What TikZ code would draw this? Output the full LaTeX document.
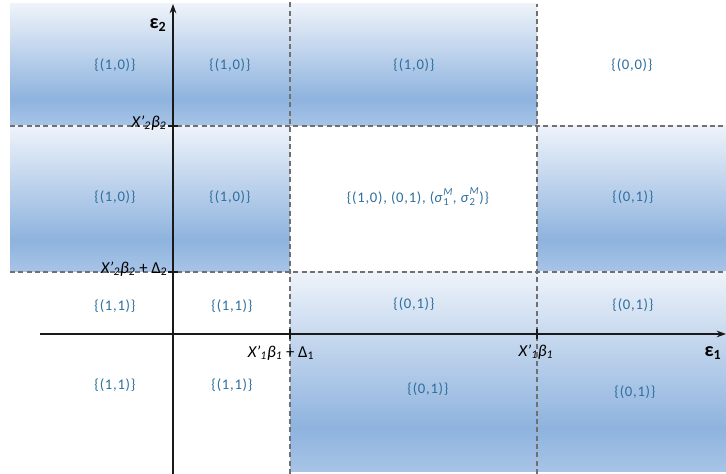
\documentclass[tikz,border=0pt]{standalone}
\usepackage{fontspec}
\setmainfont{Carlito}
\newfontfamily\cellfont[LetterSpace=5]{Carlito}
\usetikzlibrary{arrows.meta}

\definecolor{bandtop}{HTML}{EEF3FA}
\definecolor{banddark}{HTML}{8EB3DE}
\definecolor{bandbot}{HTML}{A8C4E7}
\definecolor{lbl}{HTML}{2E6E9E}
\definecolor{gridgray}{HTML}{707070}
\pgfdeclareverticalshading{band}{100bp}{color(0bp)=(bandbot); color(25bp)=(bandbot);
  color(36bp)=(banddark); color(75bp)=(bandtop); color(100bp)=(bandtop)}

\newcommand{\xb}[1]{\textit{X'\textsubscript{#1}β\textsubscript{#1}}}
\newcommand{\sgm}[1]{\textit{σ}\raisebox{-0.5ex}{\fontsize{8}{8}\selectfont\shortstack[l]{\textit{M}\\#1}}}

\begin{document}
\begin{tikzpicture}[x=0.75pt, y=0.75pt,
    cell/.style={text=lbl, font=\cellfont\fontsize{11}{13}\selectfont},
    ticklbl/.style={font=\fontsize{12.5}{14}\selectfont, inner sep=1pt},
    dashline/.style={draw=gridgray, line width=0.9pt, dash pattern=on 3.75pt off 2.5pt},
    axis/.style={draw=black!90, line width=1pt, -{Stealth[length=7pt, width=5pt]}},
    tickmark/.style={draw=black!90, line width=0.8pt}]
  \useasboundingbox (0,0) rectangle (726,474);

  \shade[shading=band] (10,348) rectangle (537,470);
  \shade[shading=band] (10,202) rectangle (290,348);
  \shade[shading=band] (537,202) rectangle (726,348);
  \shade[shading=band] (290,2) rectangle (726,202);

  \coordinate (hiW) at (10,348);  \coordinate (hiE) at (726,348);
  \coordinate (loW) at (10,202);  \coordinate (loE) at (726,202);
  \coordinate (dlS) at (290,0);   \coordinate (dlN) at (290,474);
  \coordinate (drS) at (537,0);   \coordinate (drN) at (537,470);
  \draw[dashline] (hiW) -- (hiE);
  \draw[dashline] (loW) -- (loE);
  \draw[dashline] (dlS) -- (dlN);
  \draw[dashline] (drS) -- (drN);

  \coordinate (xS) at (40,140);  \coordinate (xE) at (726,140);
  \coordinate (yS) at (173,0);   \coordinate (yE) at (173,470);
  \draw[axis] (xS) -- (xE);
  \draw[axis] (yS) -- (yE);

  \draw[tickmark] (168,348) -- (178,348);
  \draw[tickmark] (168,202) -- (178,202);
  \draw[tickmark] (290,135) -- (290,145);
  \draw[tickmark] (537,135) -- (537,145);

  \node[ticklbl, anchor=east] (b2) at (168,351) {\xb{2}};
  \node[ticklbl, anchor=east] (b2d) at (169,205) {\xb{2} + Δ\textsubscript{2}};
  \node[ticklbl] (b1d) at (281,121) {\xb{1} + Δ\textsubscript{1}};
  \node[ticklbl] (b1) at (536,122) {\xb{1}};
  \node[font=\fontsize{15}{17}\selectfont] (eps1) at (713,121) {\textbf{ε\textsubscript{1}}};
  \node[font=\fontsize{15}{17}\selectfont] (eps2) at (158,449) {\textbf{ε\textsubscript{2}}};

  \node[cell] (c11) at (115,409) {\{(1,0)\}};
  \node[cell] (c12) at (230,409) {\{(1,0)\}};
  \node[cell] (c13) at (414,409) {\{(1,0)\}};
  \node[cell] (c14) at (632,409) {\{(0,0)\}};

  \node[cell] (c21) at (115,277) {\{(1,0)\}};
  \node[cell] (c22) at (230,277) {\{(1,0)\}};
  \node[cell] (c23) at (418,277) {\{(1,0), (0,1), (\sgm{1}, \sgm{2})\}};
  \node[cell] (c24) at (633,277) {\{(0,1)\}};

  \node[cell] (c31) at (115,168) {\{(1,1)\}};
  \node[cell] (c32) at (232,168) {\{(1,1)\}};
  \node[cell] (c33) at (414,170) {\{(0,1)\}};
  \node[cell] (c34) at (633,169) {\{(0,1)\}};

  \node[cell] (c41) at (115,89) {\{(1,1)\}};
  \node[cell] (c42) at (232,89) {\{(1,1)\}};
  \node[cell] (c43) at (428,85) {\{(0,1)\}};
  \node[cell] (c44) at (635,82) {\{(0,1)\}};
\end{tikzpicture}
\end{document}
